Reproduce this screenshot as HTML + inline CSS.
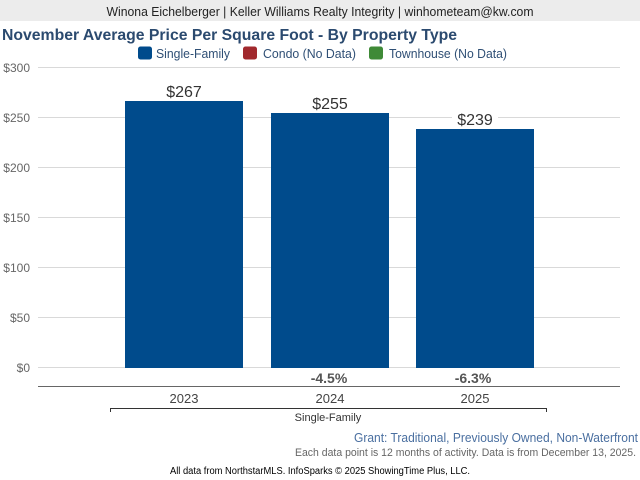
<!DOCTYPE html>
<html>
<head>
<meta charset="utf-8">
<style>
  html, body { margin:0; padding:0; background:#fff; }
  body { width:640px; height:480px; overflow:hidden; }
  svg { display:block; font-family:"Liberation Sans", Arial, sans-serif; }
</style>
</head>
<body>
<svg width="640" height="480" viewBox="0 0 640 480" xmlns="http://www.w3.org/2000/svg">
  <!-- header bar -->
  <rect x="0" y="0" width="640" height="21" fill="#ececec"/>
  <text x="320" y="16" text-anchor="middle" font-size="13" fill="#222" textLength="427" lengthAdjust="spacingAndGlyphs">Winona Eichelberger | Keller Williams Realty Integrity | winhometeam@kw.com</text>

  <!-- title -->
  <text x="2" y="40" font-size="16" font-weight="bold" fill="#2b4a6f" textLength="455" lengthAdjust="spacingAndGlyphs">November Average Price Per Square Foot - By Property Type</text>

  <!-- legend -->
  <rect x="138" y="46.5" width="14" height="13" rx="2.5" fill="#004b8c"/>
  <text x="156" y="58" font-size="12.5" fill="#2f4f75" textLength="74" lengthAdjust="spacingAndGlyphs">Single-Family</text>
  <rect x="243" y="46.5" width="14" height="13" rx="2.5" fill="#a1292d"/>
  <text x="263" y="58" font-size="12.5" fill="#2f4f75" textLength="93" lengthAdjust="spacingAndGlyphs">Condo (No Data)</text>
  <rect x="369" y="46.5" width="14" height="13" rx="2.5" fill="#3f8a37"/>
  <text x="389" y="58" font-size="12.5" fill="#2f4f75" textLength="118" lengthAdjust="spacingAndGlyphs">Townhouse (No Data)</text>

  <!-- gridlines -->
  <g stroke="#d9d9d9" stroke-width="1">
    <line x1="38" y1="67.5" x2="620" y2="67.5"/>
    <line x1="38" y1="117.5" x2="620" y2="117.5"/>
    <line x1="38" y1="167.5" x2="620" y2="167.5"/>
    <line x1="38" y1="217.5" x2="620" y2="217.5"/>
    <line x1="38" y1="267.5" x2="620" y2="267.5"/>
    <line x1="38" y1="317.5" x2="620" y2="317.5"/>
    <line x1="38" y1="367.5" x2="620" y2="367.5"/>
  </g>

  <!-- y labels -->
  <g font-size="12" fill="#666" text-anchor="end">
    <text x="30" y="72">$300</text>
    <text x="30" y="122">$250</text>
    <text x="30" y="172">$200</text>
    <text x="30" y="222">$150</text>
    <text x="30" y="272">$100</text>
    <text x="30" y="322">$50</text>
    <text x="30" y="372">$0</text>
  </g>

  <!-- bars -->
  <rect x="125" y="101" width="118" height="267" fill="#004b8c"/>
  <rect x="271" y="113" width="118" height="255" fill="#004b8c"/>
  <rect x="416" y="129" width="118" height="239" fill="#004b8c"/>

  <!-- value labels -->
  <rect x="161" y="83" width="46" height="17" fill="#fff"/>
  <text x="184" y="97" text-anchor="middle" font-size="16" fill="#333">$267</text>
  <rect x="307" y="95" width="46" height="17" fill="#fff"/>
  <text x="330" y="109" text-anchor="middle" font-size="16" fill="#333">$255</text>
  <rect x="452" y="111" width="46" height="17" fill="#fff"/>
  <text x="475" y="125" text-anchor="middle" font-size="16" fill="#333">$239</text>

  <!-- % change labels -->
  <text x="329" y="383" text-anchor="middle" font-size="14" font-weight="bold" fill="#555">-4.5%</text>
  <text x="473" y="383" text-anchor="middle" font-size="14" font-weight="bold" fill="#555">-6.3%</text>

  <!-- axis line -->
  <line x1="38" y1="386.5" x2="620" y2="386.5" stroke="#666" stroke-width="1"/>

  <!-- year labels -->
  <g font-size="13" fill="#444" text-anchor="middle">
    <text x="184" y="403">2023</text>
    <text x="330" y="403">2024</text>
    <text x="475" y="403">2025</text>
  </g>

  <!-- bracket -->
  <path d="M110.5 412 V408.5 H546.5 V412" fill="none" stroke="#333" stroke-width="1"/>
  <text x="328" y="421" text-anchor="middle" font-size="11" fill="#333">Single-Family</text>

  <!-- footer -->
  <text x="638" y="442" text-anchor="end" font-size="13" fill="#4a6fa0" textLength="284" lengthAdjust="spacingAndGlyphs">Grant: Traditional, Previously Owned, Non-Waterfront</text>
  <text x="636" y="456" text-anchor="end" font-size="11" fill="#666" textLength="341" lengthAdjust="spacingAndGlyphs">Each data point is 12 months of activity. Data is from December 13, 2025.</text>
  <text x="320" y="474" text-anchor="middle" font-size="10" fill="#000" textLength="300" lengthAdjust="spacingAndGlyphs">All data from NorthstarMLS. InfoSparks © 2025 ShowingTime Plus, LLC.</text>
</svg>
</body>
</html>
